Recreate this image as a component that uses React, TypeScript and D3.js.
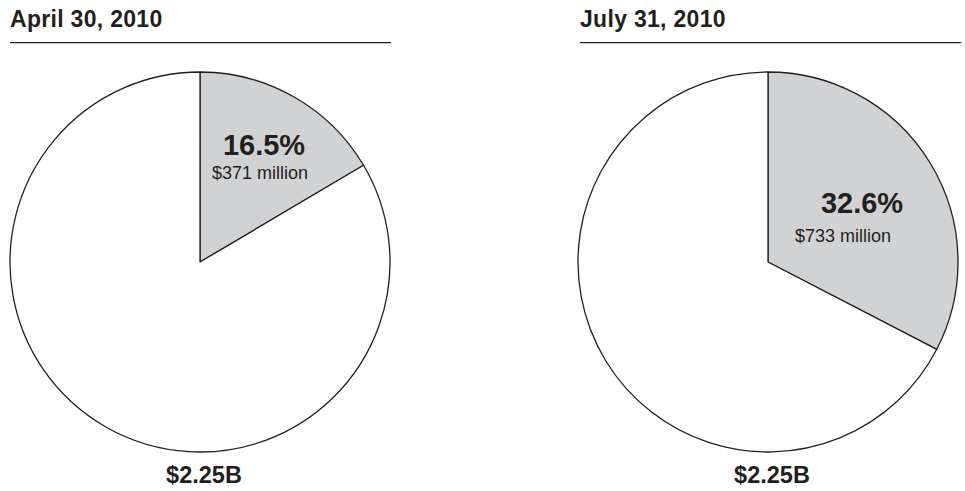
import React from "react";
import * as d3 from "d3";

const titles = ["April 30, 2010", "July 31, 2010"];
const sharePct = [16.5, 32.6];
const shareAmount = ["$371 million", "$733 million"];
const totals = ["$2.25B", "$2.25B"];

const W = 965;
const H = 491;
const INK = "#231f20";
const FONT = "Liberation Sans, Arial, sans-serif";

const panelX = d3.scaleOrdinal<number, number>().domain([0, 1]).range([10, 580]);
const pieCX = d3.scaleOrdinal<number, number>().domain([0, 1]).range([200, 768]);
// label offsets relative to pie centre
const pctOffset: [number, number][] = [[64, -107], [94, -49]];
const amtOffset: [number, number][] = [[60, -83], [75, -20]];

export default function App() {
  const r = 190;
  const cy = 262;
  const arc = d3.arc<d3.PieArcDatum<number>>().innerRadius(0).outerRadius(r);
  const pie = d3.pie<number>().sort(null).startAngle(0).endAngle(2 * Math.PI);
  return (
    <svg width={W} height={H} style={{ position: "absolute", left: 0, top: 0 }}>
      <rect width={W} height={H} fill="#fff" />
      {titles.map((t, i) => {
        const x0 = panelX(i);
        const cx = pieCX(i);
        const arcs = pie([sharePct[i], 100 - sharePct[i]]);
        return (
          <g key={i}>
            <text x={x0} y={27} fontFamily={FONT} fontWeight="bold" fontSize={23} letterSpacing={0.3} fill={INK}>
              {t}
            </text>
            <line x1={x0} x2={x0 + 381} y1={42.7} y2={42.7} stroke={INK} strokeWidth={1.2} />
            <g transform={`translate(${cx},${cy})`}>
              {arcs.map((d, j) => (
                <path key={j} d={arc(d) || ""} fill={j === 0 ? "#d1d2d4" : "#fff"} stroke={INK} strokeWidth={1.3} strokeLinejoin="round" />
              ))}
              <text x={pctOffset[i][0]} y={pctOffset[i][1]} textAnchor="middle" fontFamily={FONT} fontWeight="bold" fontSize={29} fill={INK}>
                {sharePct[i].toFixed(1) + "%"}
              </text>
              <text x={amtOffset[i][0]} y={amtOffset[i][1]} textAnchor="middle" fontFamily={FONT} fontSize={18} fill={INK}>
                {shareAmount[i]}
              </text>
            </g>
            <text x={cx + 4} y={483} textAnchor="middle" fontFamily={FONT} fontWeight="bold" fontSize={23.5} fill={INK}>
              {totals[i]}
            </text>
          </g>
        );
      })}
    </svg>
  );
}
